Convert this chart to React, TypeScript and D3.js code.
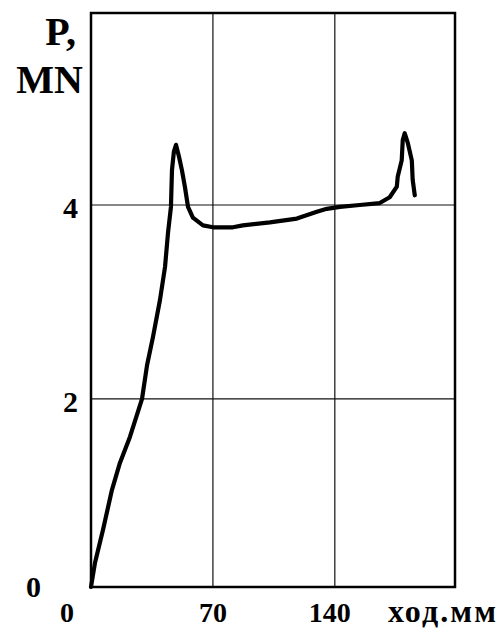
import { useEffect, useRef } from "react"
import * as d3 from "d3"

// stroke (mm) vs force P (MN)
const stroke = [0, 2.3, 6.9, 12, 16.6, 22.4, 29.3, 32.2, 35.6, 39.6, 42.5, 44.2, 45.9, 46.5, 47.6, 48.8, 50.5, 52.2, 53.9, 55.7, 58.5, 64.3, 70, 81.5, 87.2, 102.7, 118.2, 129.7, 135.4, 142.9, 154.3, 165.8, 171.5, 175.6, 176.1, 178.4, 179, 180.1, 181.9, 184.2, 184.7, 185.9]
const force = [0.06, 0.31, 0.65, 1.06, 1.34, 1.61, 2.0, 2.35, 2.64, 3.02, 3.36, 3.71, 3.98, 4.36, 4.55, 4.62, 4.5, 4.36, 4.19, 3.98, 3.87, 3.79, 3.77, 3.77, 3.79, 3.82, 3.86, 3.93, 3.96, 3.98, 4.0, 4.02, 4.08, 4.19, 4.29, 4.46, 4.67, 4.74, 4.64, 4.46, 4.26, 4.1]

const xTicks = [0, 70, 140]
const yTicks = [0, 2, 4]
const xGrid = [70, 140]
const yGrid = [2, 4]
const xTitle = "ход.мм"
const yTitle = ["P,", "MN"]

export default function App() {

  const ref = useRef<SVGSVGElement | null>(null)

  useEffect(() => {
    document.body.style.margin = "0"

    const svg = d3.select(ref.current)
    svg.selectAll("*").remove()

    const width = 498
    const height = 629
    const font = "'Liberation Serif', 'Times New Roman', serif"

    const x = d3.scaleLinear().domain([0, 209]).range([91, 455])
    const y = d3.scaleLinear().domain([0.06, 5.98]).range([587, 13])

    svg.attr("width", width).attr("height", height)

    svg.append("rect")
      .attr("width", width).attr("height", height)
      .attr("fill", "#fff")

    // grid
    svg.selectAll("line.vg")
      .data(xGrid)
      .enter()
      .append("line")
      .attr("x1", d => x(d)).attr("x2", d => x(d))
      .attr("y1", y.range()[0]).attr("y2", y.range()[1])
      .attr("stroke", "#111").attr("stroke-width", 1.2)

    svg.selectAll("line.hg")
      .data(yGrid)
      .enter()
      .append("line")
      .attr("x1", x.range()[0]).attr("x2", x.range()[1])
      .attr("y1", d => y(d)).attr("y2", d => y(d))
      .attr("stroke", "#111").attr("stroke-width", 1.2)

    // frame
    svg.append("rect")
      .attr("x", x.range()[0]).attr("y", y.range()[1])
      .attr("width", x.range()[1] - x.range()[0])
      .attr("height", y.range()[0] - y.range()[1])
      .attr("fill", "none")
      .attr("stroke", "#000").attr("stroke-width", 2.5)

    // curve
    const line = d3.line<number>()
      .x((d, i) => x(stroke[i]))
      .y(d => y(d))

    svg.append("path")
      .datum(force)
      .attr("d", line)
      .attr("fill", "none")
      .attr("stroke", "#000")
      .attr("stroke-width", 4.2)
      .attr("stroke-linejoin", "round")
      .attr("stroke-linecap", "round")

    // tick labels
    svg.selectAll("text.xt")
      .data(xTicks)
      .enter()
      .append("text")
      .attr("x", d => x(d) - (d === 0 ? 24 : d === 140 ? 5 : 0))
      .attr("y", 622)
      .attr("text-anchor", "middle")
      .attr("font-family", font).attr("font-weight", "bold").attr("font-size", 28)
      .text(d => d)

    svg.selectAll("text.yt")
      .data(yTicks)
      .enter()
      .append("text")
      .attr("x", d => d === 0 ? 41 : 78)
      .attr("y", d => y(d) + (d === 0 ? 4 : 13))
      .attr("text-anchor", "end")
      .attr("font-family", font).attr("font-weight", "bold").attr("font-size", 30)
      .text(d => d)

    svg.append("text")
      .attr("x", 388).attr("y", 622)
      .attr("font-family", font).attr("font-weight", "bold").attr("font-size", 32)
      .attr("textLength", 108)
      .text(xTitle)

    svg.selectAll("text.yl")
      .data(yTitle)
      .enter()
      .append("text")
      .attr("x", (d, i) => i === 0 ? 76 : 83)
      .attr("y", (d, i) => i === 0 ? 45 : 93)
      .attr("text-anchor", "end")
      .attr("font-family", font).attr("font-weight", "bold").attr("font-size", 40)
      .text(d => d)

  }, [])

  return <svg ref={ref} style={{ display: "block" }} />
}
